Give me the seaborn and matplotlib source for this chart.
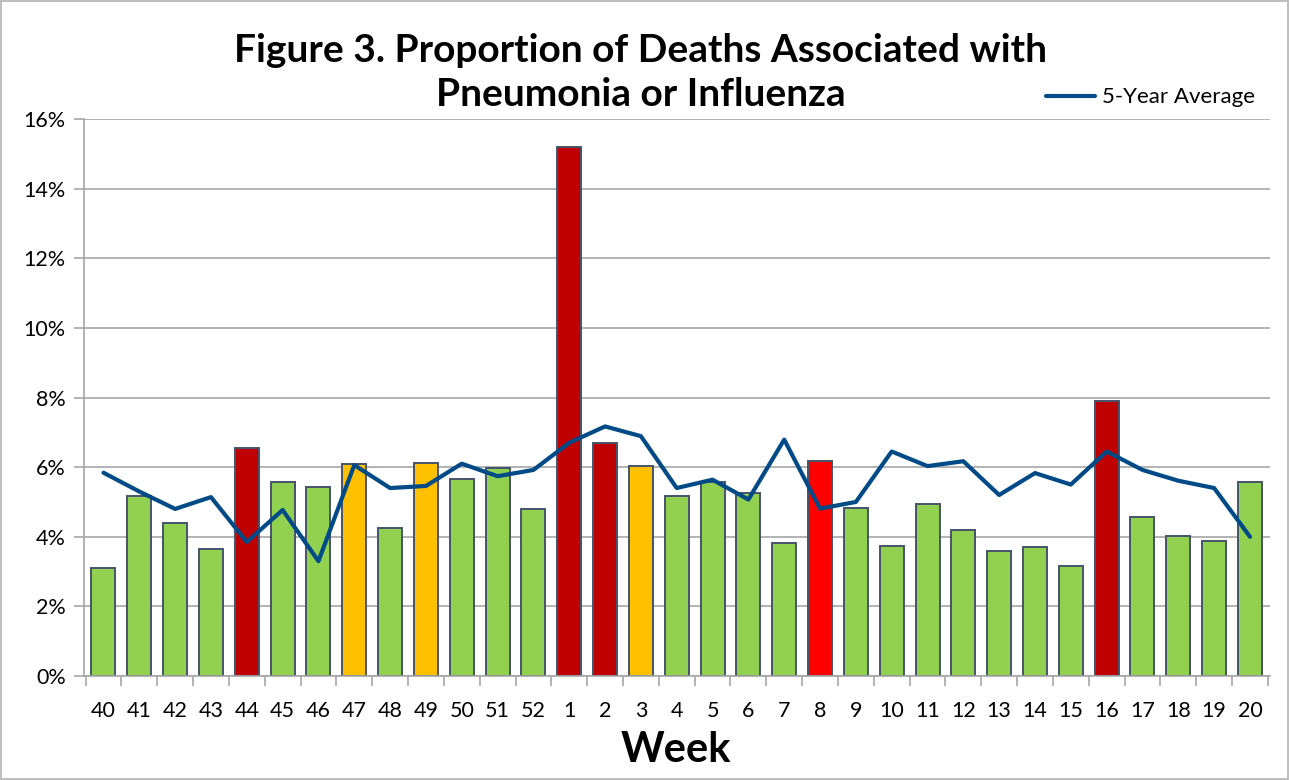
import numpy as np
import pandas as pd
import seaborn as sns
import matplotlib.pyplot as plt
from matplotlib.ticker import FixedLocator, PercentFormatter

# ── Data ────────────────────────────────────────────────────────────────────
weeks = ["40", "41", "42", "43", "44", "45", "46", "47", "48", "49", "50",
         "51", "52", "1", "2", "3", "4", "5", "6", "7", "8", "9", "10", "11",
         "12", "13", "14", "15", "16", "17", "18", "19", "20"]
pct_deaths = [3.11, 5.16, 4.40, 3.65, 6.56, 5.58, 5.44, 6.09, 4.26, 6.11, 5.67,
              5.97, 4.81, 15.19, 6.69, 6.04, 5.16, 5.57, 5.26, 3.82, 6.19, 4.84,
              3.73, 4.94, 4.20, 3.59, 3.72, 3.17, 7.91, 4.58, 4.01, 3.89, 5.58]
five_yr_avg = [5.84, 5.30, 4.80, 5.14, 3.85, 4.77, 3.30, 6.06, 5.40, 5.46, 6.10,
               5.74, 5.92, 6.70, 7.17, 6.89, 5.40, 5.64, 5.07, 6.79, 4.81, 5.00,
               6.45, 6.03, 6.17, 5.20, 5.83, 5.50, 6.45, 5.92, 5.61, 5.40, 4.00]
# g = green, d = dark red, y = amber, r = red
level = list("ggggdggygyggg" "ddy" "ggggr" "ggggggg" "d" "gggg")

LEVEL_COLORS = {"g": "#92D050", "d": "#C00000", "y": "#FFC000", "r": "#FF0000"}
LINE_COLOR = "#004B87"
GRID_COLOR = "#A6A6A6"

df = pd.DataFrame({"week": weeks, "pct": pct_deaths, "avg": five_yr_avg,
                   "level": level})
df["pos"] = np.arange(len(df))

# ── Plot ────────────────────────────────────────────────────────────────────
sns.set_theme(style="white")
plt.rcParams["font.family"] = ["Lato", "DejaVu Sans"]
plt.rcParams["text.color"] = "black"
plt.rcParams["xtick.labelcolor"] = "black"
plt.rcParams["ytick.labelcolor"] = "black"

fig = plt.figure(figsize=(12.89, 7.80), dpi=100)
fig.patch.set_edgecolor("#BFBFBF")
fig.patch.set_linewidth(1.5)
ax = fig.add_axes([0.065, 0.1333, 0.92, 0.7141])

palette = [LEVEL_COLORS[c] for c in df["level"]]
sns.barplot(data=df, x="week", y="pct", hue="week", palette=palette,
            legend=False, width=0.67, edgecolor="#44546A", linewidth=1.4,
            saturation=1, ax=ax, zorder=2)
sns.lineplot(data=df, x="pos", y="avg", color=LINE_COLOR, linewidth=3,
             label="5-Year Average", ax=ax, zorder=3)

ax.set_ylim(0, 16)
ax.set_xlim(-0.55, len(df) - 0.45)
ax.set_yticks(np.arange(0, 17, 2))
ax.yaxis.set_major_formatter(PercentFormatter(decimals=0))
ax.grid(axis="y", color=GRID_COLOR, linewidth=1.2, zorder=0)
ax.set_axisbelow(True)

# category labels at bar centres, tick marks on the boundaries
ax.set_xticks(df["pos"])
ax.set_xticklabels(weeks)
ax.xaxis.set_minor_locator(FixedLocator(np.arange(-0.5, len(df), 1)))
ax.tick_params(axis="x", which="major", length=0, pad=18, labelsize=15.5)
ax.tick_params(axis="x", which="minor", length=7, width=1.2,
               color=GRID_COLOR, direction="out", bottom=True)
ax.tick_params(axis="y", length=7, width=1.2, color=GRID_COLOR,
               direction="out", left=True, labelsize=15.5, pad=6)

for side in ["top", "right"]:
    ax.spines[side].set_visible(False)
for side in ["left", "bottom"]:
    ax.spines[side].set_color(GRID_COLOR)
    ax.spines[side].set_linewidth(1.2)

ax.set_xlabel("")
ax.set_ylabel("")
fig.text(0.524, 0.038, "Week", ha="center", va="center",
         fontsize=30, fontweight="bold")
fig.text(0.497, 0.907, "Figure 3. Proportion of Deaths Associated with\n"
         "Pneumonia or Influenza", ha="center", va="center",
         fontsize=28, fontweight="bold", linespacing=1.3)

ax.legend(loc="lower right", bbox_to_anchor=(0.995, 1.005), frameon=False,
          fontsize=16, handlelength=2.2, handletextpad=0.3, borderaxespad=0)

fig.savefig("out.png", dpi=100)
